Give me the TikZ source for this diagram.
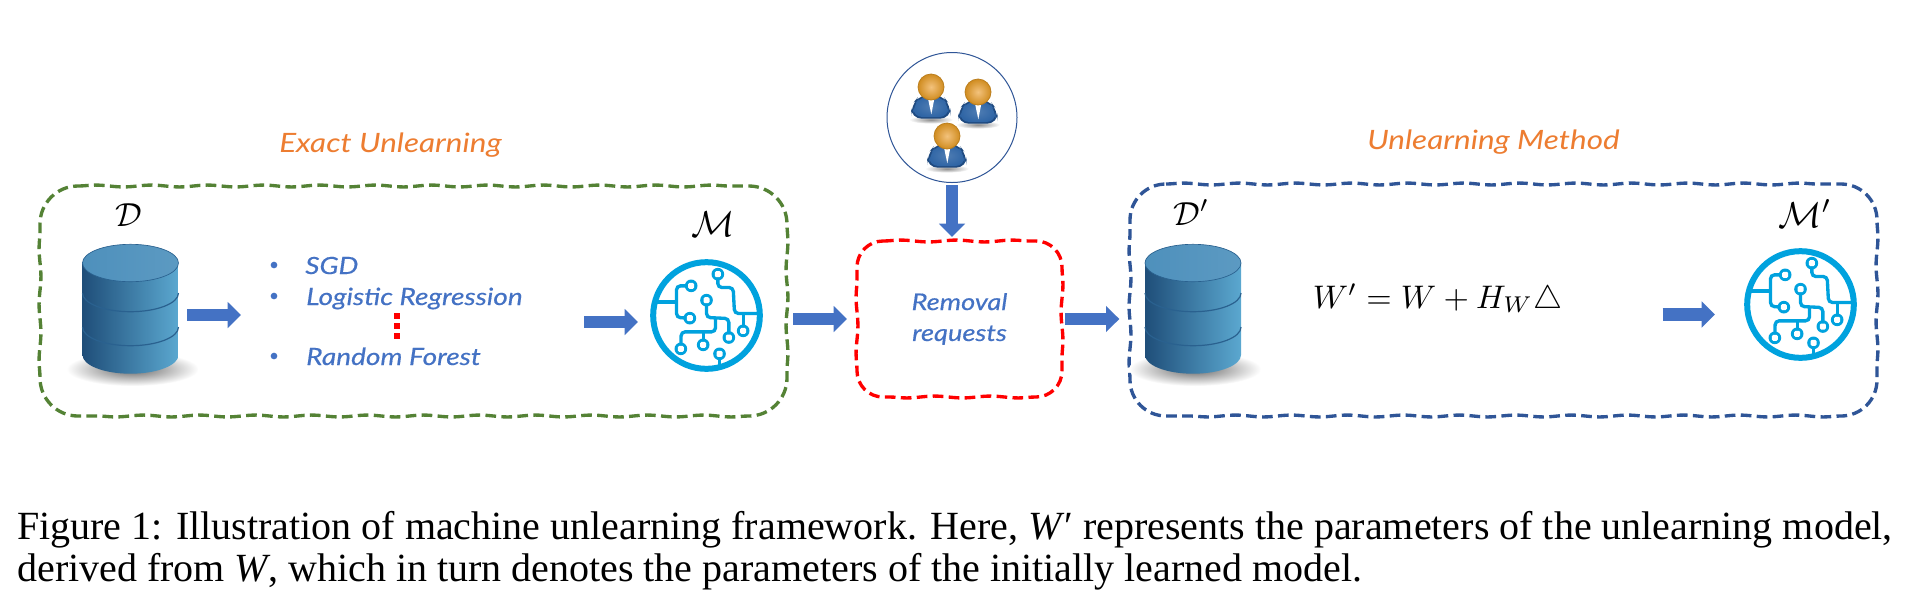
\documentclass[tikz,border=0pt]{standalone}
\usepackage{graphicx}
\usepackage{fontspec}
\setmainfont{Liberation Serif}
\newfontfamily\handfont{Lato}[FakeStretch=1.18]
\newfontfamily\handitemfont{Lato}[FakeStretch=1.18,ItalicFeatures={FakeBold=0.4}]
\usetikzlibrary{arrows.meta,decorations.pathmorphing,calc}
\definecolor{boxgreen}{HTML}{548235}
\definecolor{boxblue}{HTML}{2F5597}
\definecolor{boxred}{HTML}{FF0000}
\definecolor{arrowblue}{HTML}{4472C4}
\definecolor{handorange}{HTML}{ED7D31}
\definecolor{iconblue}{HTML}{00A2DE}
\definecolor{dbleft}{HTML}{1F4E79}
\definecolor{dbright}{HTML}{5BA8D0}
\definecolor{dbtopl}{HTML}{4E90BC}
\definecolor{dbtopr}{HTML}{5C9AC2}
\definecolor{dbline}{HTML}{2A618F}
\definecolor{userbody}{HTML}{2F65A5}
\definecolor{userdark}{HTML}{1F4A80}
\definecolor{headin}{HTML}{F3C27C}
\definecolor{headout}{HTML}{D08C20}
\newcommand{\iconnode}[2]{%
  \fill[iconblue] (#1,#2) circle (19);
  \fill[white,rounded corners=1pt] (#1-9,#2-9) rectangle (#1+9,#2+9);}
% wobbly dashed border round a named node: straight sides wobble, corners stay round
\newcommand{\wavyborder}[3]{%
  \draw[wavyline=#2]
    ($(#1.north west)+(#3,0)$) decorate {-- ($(#1.north east)+(-#3,0)$)} arc (-90:0:#3)
    decorate {-- ($(#1.south east)+(0,-#3)$)} arc (0:90:#3)
    decorate {-- ($(#1.south west)+(#3,0)$)} arc (90:180:#3)
    decorate {-- ($(#1.north west)+(0,#3)$)} arc (180:270:#3);}
\tikzset{
  x=.75pt,y=-.75pt,
  placebox/.style={rectangle,inner sep=0pt,outer sep=0pt},
  wavyline/.style={draw=#1,line width=2.5pt,dash pattern=on 8pt off 4pt,
    decoration={snake,amplitude=.7pt,segment length=42pt}},
  blockarr/.style={draw=arrowblue,line width=9.5pt,
    -{Triangle[length=10pt,width=19pt,fill=arrowblue]}},
  handlabel/.style={font=\handfont\itshape\fontsize{20}{24}\selectfont,text=handorange,anchor=base west,inner sep=0pt},
  handitem/.style={font=\handitemfont\itshape\fontsize{17.8}{21}\selectfont,text=arrowblue,anchor=base west,inner sep=0pt},
  bulletdot/.style={circle,fill=arrowblue,minimum size=5pt,inner sep=0pt},
  reddot/.style={rectangle,fill=boxred,minimum size=3.8pt,inner sep=0pt},
  mathlabel/.style={anchor=base west,inner sep=0pt},
  captionline/.style={font=\fontsize{30}{36}\selectfont,anchor=base west,inner sep=0pt},
  database/.pic={
    \shade[inner color=black!60,outer color=white] (2,106) ellipse (66 and 17);
    \shade[left color=dbleft,right color=dbright]
      (-48,0) -- (-48,92) arc (180:0:48 and 18.7) -- (48,0) -- cycle;
    \draw[dbline,line width=.9pt] (-48,30) arc (180:0:48 and 18.7);
    \draw[dbline,line width=.9pt] (-48,64) arc (180:0:48 and 18.7);
    \shade[left color=dbtopl,right color=dbtopr,draw=dbline,line width=.5pt] (0,0) ellipse (48 and 18.7);
  },
  circuit/.pic={
    \begin{scope}[x=.25pt,y=-.25pt,shift={(-438,-406)}]
      \draw[iconblue,line width=4.5pt] (438,406) circle (160);
      \begin{scope}[iconblue,line width=2.5pt,rounded corners=3pt]
        \draw (285,365) -- (348,365);
        \draw (392,317) -- (348,317) -- (348,412) -- (388,414);
        \draw (472,282) -- (472,322) -- (518,322) -- (522,400) -- (590,400);
        \draw (548,400) -- (548,452);
        \draw (438,360) -- (438,412) -- (505,415) -- (505,472);
        \draw (465,415) -- (465,455) -- (362,455) -- (361,506);
        \draw (428,455) -- (428,494);
        \draw (477,521) -- (477,555);
      \end{scope}
      \iconnode{392}{317}\iconnode{388}{414}\iconnode{472}{282}\iconnode{548}{452}
      \iconnode{438}{360}\iconnode{505}{472}\iconnode{361}{506}\iconnode{428}{494}\iconnode{477}{521}
    \end{scope}
  },
  person/.pic={
    \begin{scope}[x=.25pt,y=-.25pt,shift={(-212,-110)}]
      \shade[inner color=black!45,outer color=white] (212,208) ellipse (66 and 12);
      \fill[userdark,rounded corners=8pt] (152,205) -- (152,165) -- (180,132) -- (244,132) -- (271,165) -- (271,205) -- cycle;
      \shade[inner color=userbody!85!white,outer color=userbody,rounded corners=7pt] (158,200) -- (158,167) -- (183,137) -- (241,137) -- (265,167) -- (265,200) -- cycle;
      \fill[white] (203,145) -- (222,145) -- (213,192) -- cycle;
      \shade[inner color=headin,outer color=headout,draw=headout!90!black,line width=.6pt] (212,110) circle (39);
    \end{scope}
  }
}
\begin{document}
\begin{tikzpicture}
\useasboundingbox (0,0) rectangle (1911,612);
\fill[white] (0,0) rectangle (1911,612);

% dashed containers
\node[placebox,minimum width=747*.75pt,minimum height=230*.75pt] (exact) at (413.5,301) {};
\node[placebox,minimum width=747*.75pt,minimum height=232*.75pt] (method) at (1503.5,300) {};
\node[placebox,minimum width=205*.75pt,minimum height=156*.75pt,
  align=center,text=arrowblue,font=\handitemfont\itshape\fontsize{17.3}{23.2}\selectfont] (removal) at (959.5,319) {Removal\\requests};
\wavyborder{exact}{boxgreen}{38}
\wavyborder{method}{boxblue}{36}
\wavyborder{removal}{boxred}{26}

% titles
\node[handlabel] (exacttitle) at (279,152) {Exact Unlearning};
\node[handlabel] (methodtitle) at (1367,149) {Unlearning Method};

% users
\node[circle,draw=boxblue,line width=.75pt,minimum size=130*.75pt,inner sep=0pt] (users) at (952,117.5) {};
\pic at (931,87) {person};
\pic at (978,92) {person};
\pic at (947,136) {person};

% left panel
\pic at (130.5,263) {database};
\node[mathlabel] (dlabel) at (115,226) {\scalebox{2.5}{$\mathcal{D}$}};
\node[bulletdot] (b1) at (274,265) {};
\node[bulletdot] (b2) at (274,296) {};
\node[bulletdot] (b3) at (274,356) {};
\node[handitem] (sgd) at (305,274) {SGD};
\node[handitem] (logreg) at (306,305) {Logistic Regression};
\node[handitem] (rf) at (306,365) {Random Forest};
\node[reddot] (r1) at (397,316) {};
\node[reddot] (r2) at (397,326) {};
\node[reddot] (r3) at (397,336) {};
\pic at (706.5,315.5) {circuit};
\node[mathlabel] (mlabel) at (691,236) {\scalebox{2.7}{$\mathcal{M}$}};

% right panel
\pic at (1193,263) {database};
\node[mathlabel] (dplabel) at (1173,225) {\scalebox{2.5}{$\mathcal{D}'$}};
\node[mathlabel] (eq) at (1312.5,308) {\scalebox{2.45}{$W'=W+H_W\triangle$}};
\pic at (1800.5,304.5) {circuit};
\node[mathlabel] (mplabel) at (1778,227) {\scalebox{2.7}{$\mathcal{M}'$}};

% arrow ends
\coordinate (a1s) at (187,315);
\coordinate (a1e) at (241,315);
\coordinate (a2s) at (584,322);
\coordinate (a2e) at (638,322);
\coordinate (a5s) at (1662.5,314.5);
\coordinate (a5e) at (1715,314.5);

\draw[blockarr] (a1s) -- (a1e);
\draw[blockarr] (a2s) -- (a2e);
\draw[blockarr,shorten <=4.5pt,shorten >=7.5pt] (removal.west -| exact.east) -- (removal.west);
\draw[blockarr,shorten <=2.2pt,shorten >=8pt] (removal.east) -- (removal.east -| method.west);
\draw[blockarr,shorten <=1.5pt,shorten >=3pt] (users.south) -- (users.south |- removal.north);
\draw[blockarr] (a5s) -- (a5e);

% caption
\node[captionline] (cap1) at (17,539) {Figure 1: Illustration of machine unlearning framework. Here, \textit{W}′ represents the parameters of the unlearning model,};
\node[captionline] (cap2) at (17,581) {derived from \textit{W}, which in turn denotes the parameters of the initially learned model.};
\end{tikzpicture}
\end{document}
